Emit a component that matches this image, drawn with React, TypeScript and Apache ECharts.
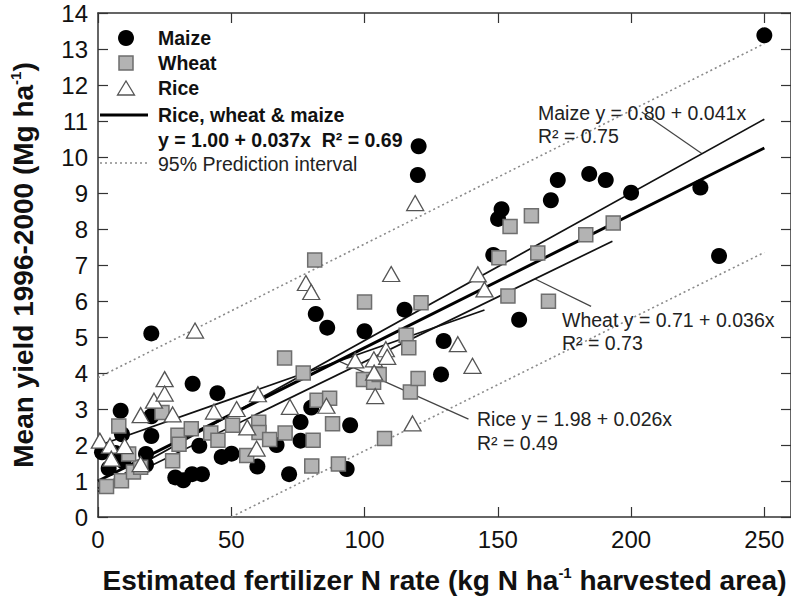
import React, { useEffect, useRef } from "react";
import * as echarts from "echarts";

// ---------- data ----------
const maize: number[][] = [
  [1.5, 1.8], [4, 1.35], [6.5, 1.78], [8.5, 2.95], [9, 2.3], [9.5, 1.55], [18, 1.75], [18, 1.45],
  [20, 2.8], [20, 2.25], [20, 5.1], [29, 1.1], [32, 1.02], [35.3, 1.19], [39, 1.19], [35.5, 3.7],
  [38, 1.98], [44.8, 3.44], [46.4, 1.67], [50.1, 1.76], [59.8, 1.4], [67, 2.0], [71.7, 1.19],
  [76, 2.64], [76, 2.12], [80, 3.04], [81.7, 5.64], [86, 5.26], [93.3, 1.33], [94.6, 2.55],
  [100, 5.16], [115, 5.76], [120.3, 10.3], [120, 9.5], [128.7, 3.96], [129.7, 4.89], [148.3, 7.28],
  [150.1, 8.28], [151.4, 8.55], [158, 5.48], [169.9, 8.8], [172.5, 9.36], [184.3, 9.53],
  [190.5, 9.36], [200, 9.01], [226, 9.15], [233, 7.25], [250, 13.38],
];
const wheat: number[][] = [
  [3.2, 0.85], [8.8, 1.01], [13.3, 1.25], [16, 1.38], [11.5, 1.75], [7.8, 2.53], [24, 2.9], [28, 1.56],
  [30, 2.27], [30.4, 2.02], [35, 2.45], [42.3, 2.33], [45, 2.13], [50.5, 2.55], [55.8, 1.71],
  [60.3, 2.63], [60.4, 2.35], [64.4, 2.15], [70.2, 2.33], [70, 4.42], [77, 4.0], [81.3, 7.14],
  [80.2, 1.42], [80.7, 2.13], [82.2, 3.24], [86.9, 3.3], [88, 2.59], [90.2, 1.47], [99.6, 3.82],
  [103.4, 3.74], [105.5, 3.96], [100, 5.97], [107.5, 2.18], [115.6, 5.05], [116.6, 4.7],
  [117.2, 3.47], [120.1, 3.85], [121.2, 5.95], [150.4, 7.2], [153.8, 6.14], [154.6, 8.07],
  [162.6, 8.37], [165, 7.33], [169, 5.99], [183, 7.84], [193.3, 8.17],
];
const rice: number[][] = [
  [0.7, 2.12], [4.5, 1.98], [5, 1.62], [10, 1.97], [16, 2.83], [16, 1.47], [21, 3.23], [25, 3.83],
  [25, 3.43], [28, 2.85], [36.4, 5.18], [43.5, 2.93], [52, 3.0], [56, 2.49], [59.5, 1.9], [60, 3.41],
  [72, 3.06], [78, 6.5], [80, 6.25], [85.7, 3.09], [96.5, 4.35], [103.5, 4.38], [103.6, 4.01],
  [104, 3.36], [108, 4.66], [108.5, 4.45], [110, 6.75], [118, 2.6], [119, 8.72], [135, 4.8],
  [140.5, 4.2], [142.5, 6.74], [145, 6.32],
];

// fitted lines (end points)
const fitAll: number[][] = [[0, 1.0], [250, 10.25]];
const fitMaize: number[][] = [[0, 0.8], [250, 11.05]];
const fitWheat: number[][] = [[0, 0.71], [193, 7.66]];
const fitRice: number[][] = [[0, 1.98], [145, 5.75]];
const piUpper: number[][] = [[0, 3.87], [250, 13.15]];
const piLower: number[][] = [[50, 0], [250, 7.35]];

// leader lines of the annotations
const leadMaize: number[][] = [[204, 11.25], [226.5, 10.1]];
const leadWheat: number[][] = [[164, 6.61], [185, 5.85]];
const leadRice: number[][] = [[90.4, 4.33], [139, 2.72]];

const xTickMin = 0;
const xTickMax = 260;
const xTickStep = 50;
const yTickMin = 0;
const yTickMax = 14;
const yTickStep = 1;

const FONT = "'Liberation Sans', Arial, Helvetica, sans-serif";
const NARROW = "'Liberation Sans Narrow', 'Arial Narrow', 'Liberation Sans', Arial, sans-serif";

function fitSeries(data: number[][], width: number, color: string, type: any = "solid") {
  return {
    type: "line",
    data,
    symbol: "none",
    silent: true,
    z: 2,
    lineStyle: { color, width, type },
  };
}

export default function App() {
  const ref = useRef<HTMLDivElement>(null);
  useEffect(() => {
    const chart = echarts.init(ref.current!, null, { renderer: "svg" });
    const axisLineStyle = { color: "#333", width: 1.5 };
    const tickStyle = { color: "#333", width: 1.2 };
    const supStyle = { fontSize: 15, fontWeight: "bold", fontFamily: NARROW, verticalAlign: "top", lineHeight: 15, color: "#111" };
    const LEG = 19.5;
    const ANN = 19.5;
    const option: any = {
      animation: false,
      backgroundColor: "#fff",
      grid: { left: 93, top: 13, width: 702, height: 505 },
      xAxis: [
        {
          type: "value",
          min: xTickMin,
          max: xTickMax,
          interval: xTickStep,
          position: "bottom",
          axisLine: { show: true, onZero: false, lineStyle: axisLineStyle },
          axisTick: { show: true, inside: true, length: 10, lineStyle: tickStyle },
          axisLabel: { showMaxLabel: false, fontSize: 24, fontFamily: NARROW, color: "#111", margin: 10 },
          splitLine: { show: false },
          name: "Estimated fertilizer N rate (kg N ha{sup|-1} harvested area)",
          nameLocation: "middle",
          nameGap: 48,
          nameTextStyle: {
            fontSize: 28,
            fontWeight: "bold",
            fontFamily: NARROW,
            color: "#111",
            lineHeight: 30,
            rich: { sup: supStyle },
          },
        },
        {
          type: "value",
          min: xTickMin,
          max: xTickMax,
          interval: xTickStep,
          position: "top",
          axisLine: { show: true, onZero: false, lineStyle: axisLineStyle },
          axisTick: { show: true, inside: true, length: 10, lineStyle: tickStyle },
          axisLabel: { show: false },
          splitLine: { show: false },
        },
      ],
      yAxis: [
        {
          type: "value",
          min: yTickMin,
          max: yTickMax,
          interval: yTickStep,
          position: "left",
          axisLine: { show: true, onZero: false, lineStyle: axisLineStyle },
          axisTick: { show: true, inside: true, length: 10, lineStyle: tickStyle },
          axisLabel: { fontSize: 24, fontFamily: NARROW, color: "#111", margin: 10 },
          splitLine: { show: false },
          name: "Mean yield 1996-2000 (Mg ha{sup|-1})",
          nameLocation: "middle",
          nameGap: 60,
          nameRotate: 90,
          nameTextStyle: {
            fontSize: 28,
            fontWeight: "bold",
            fontFamily: NARROW,
            color: "#111",
            lineHeight: 30,
            rich: { sup: supStyle },
          },
        },
        {
          type: "value",
          min: yTickMin,
          max: yTickMax,
          interval: yTickStep,
          position: "right",
          axisLine: { show: true, onZero: false, lineStyle: axisLineStyle },
          axisTick: { show: true, inside: true, length: 10, lineStyle: tickStyle },
          axisLabel: { show: false },
          splitLine: { show: false },
        },
      ],
      series: [
        fitSeries(piUpper, 1.6, "#8a8a8a", [2, 3]),
        fitSeries(piLower, 1.6, "#8a8a8a", [2, 3]),
        fitSeries(leadMaize, 1.2, "#444"),
        fitSeries(leadWheat, 1.2, "#444"),
        fitSeries(leadRice, 1.2, "#444"),
        fitSeries(fitMaize, 1.7, "#111"),
        fitSeries(fitWheat, 1.7, "#111"),
        fitSeries(fitRice, 1.7, "#111"),
        fitSeries(fitAll, 3, "#000"),
        {
          name: "Maize",
          type: "scatter",
          data: maize,
          symbol: "circle",
          symbolSize: 16,
          z: 3,
          itemStyle: { color: "#000", opacity: 1 },
        },
        {
          name: "Wheat",
          type: "scatter",
          data: wheat,
          symbol: "rect",
          symbolSize: 14,
          z: 4,
          itemStyle: { color: "#b3b3b3", borderColor: "#6e6e6e", borderWidth: 1.5, opacity: 1 },
        },
        {
          name: "Rice",
          type: "scatter",
          data: rice,
          symbol: "triangle",
          symbolSize: [17, 15],
          z: 5,
          itemStyle: { color: "#fff", borderColor: "#555", borderWidth: 1.3, opacity: 1 },
        },
      ],
      graphic: [
        // legend
        { type: "circle", shape: { cx: 126, cy: 38, r: 8 }, style: { fill: "#000" }, z: 10 },
        { type: "rect", shape: { x: 119, y: 56, width: 14, height: 14 }, style: { fill: "#b3b3b3", stroke: "#6e6e6e", lineWidth: 1.5 }, z: 10 },
        { type: "polygon", shape: { points: [[117.5, 95], [134.5, 95], [126, 81]] }, style: { fill: "#fff", stroke: "#555", lineWidth: 1.3 }, z: 10 },
        { type: "line", shape: { x1: 100, y1: 115, x2: 148, y2: 115 }, style: { stroke: "#000", lineWidth: 3 }, z: 10 },
        { type: "line", shape: { x1: 100, y1: 163, x2: 148, y2: 163 }, style: { stroke: "#8a8a8a", lineWidth: 1.6, lineDash: [2, 3] }, z: 10 },
        { type: "text", x: 158, y: 38, style: { text: "Maize", fontSize: LEG, fontWeight: "bold", fontFamily: FONT, fill: "#111", verticalAlign: "middle" }, z: 10 },
        { type: "text", x: 158, y: 63, style: { text: "Wheat", fontSize: LEG, fontWeight: "bold", fontFamily: FONT, fill: "#111", verticalAlign: "middle" }, z: 10 },
        { type: "text", x: 158, y: 88, style: { text: "Rice", fontSize: LEG, fontWeight: "bold", fontFamily: FONT, fill: "#111", verticalAlign: "middle" }, z: 10 },
        { type: "text", x: 158, y: 115, style: { text: "Rice, wheat & maize", fontSize: LEG, fontWeight: "bold", fontFamily: FONT, fill: "#111", verticalAlign: "middle" }, z: 10 },
        { type: "text", x: 158, y: 140, style: { text: "y = 1.00 + 0.037x  R² = 0.69", fontSize: LEG, fontWeight: "bold", fontFamily: FONT, fill: "#111", verticalAlign: "middle" }, z: 10 },
        { type: "text", x: 158, y: 164, style: { text: "95% Prediction interval", fontSize: LEG, fontFamily: FONT, fill: "#222", verticalAlign: "middle" }, z: 10 },
        // annotations
        { type: "text", x: 538, y: 113, style: { text: "Maize y = 0.80 + 0.041x", fontSize: ANN, fontFamily: FONT, fill: "#222", verticalAlign: "middle" }, z: 10 },
        { type: "text", x: 538, y: 136, style: { text: "R² = 0.75", fontSize: ANN, fontFamily: FONT, fill: "#222", verticalAlign: "middle" }, z: 10 },
        { type: "text", x: 562, y: 320, style: { text: "Wheat y = 0.71 + 0.036x", fontSize: ANN, fontFamily: FONT, fill: "#222", verticalAlign: "middle" }, z: 10 },
        { type: "text", x: 562, y: 343, style: { text: "R² = 0.73", fontSize: ANN, fontFamily: FONT, fill: "#222", verticalAlign: "middle" }, z: 10 },
        { type: "text", x: 477, y: 419, style: { text: "Rice y = 1.98 + 0.026x", fontSize: ANN, fontFamily: FONT, fill: "#222", verticalAlign: "middle" }, z: 10 },
        { type: "text", x: 477, y: 443, style: { text: "R² = 0.49", fontSize: ANN, fontFamily: FONT, fill: "#222", verticalAlign: "middle" }, z: 10 },
      ],
    };
    chart.setOption(option);
    return () => chart.dispose();
  }, []);
  return (
    <div
      ref={ref}
      style={{ position: "fixed", left: 0, top: 0, width: 791, height: 600, background: "#fff" }}
    />
  );
}
